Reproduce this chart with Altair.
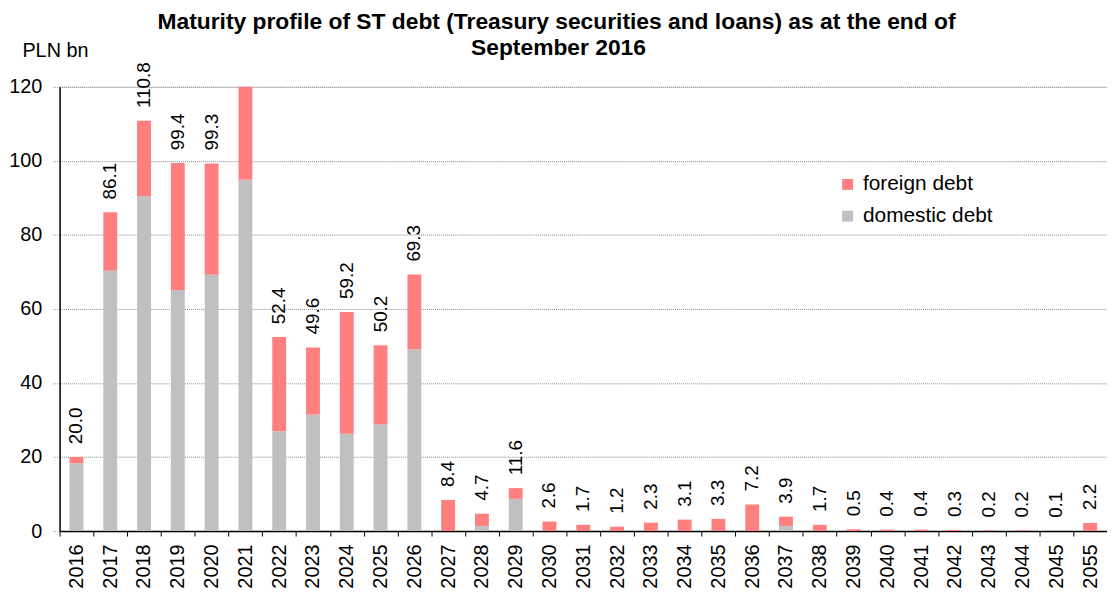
import altair as alt
import pandas as pd

years = ["2016", "2017", "2018", "2019", "2020", "2021", "2022", "2023", "2024", "2025",
         "2026", "2027", "2028", "2029", "2030", "2031", "2032", "2033", "2034", "2035",
         "2036", "2037", "2038", "2039", "2040", "2041", "2042", "2043", "2044", "2045", "2055"]
domestic = [18.3, 70.3, 90.4, 65.1, 69.2, 94.9, 27.0, 31.5, 26.3, 28.8,
            49.1, 0.0, 1.4, 8.7, 0.0, 0.0, 0.0, 0.0, 0.0, 0.0,
            0.0, 1.4, 0.0, 0.0, 0.0, 0.0, 0.0, 0.0, 0.0, 0.0, 0.0]
foreign = [1.7, 15.8, 20.4, 34.3, 30.1, 27.0, 25.4, 18.1, 32.9, 21.4,
           20.2, 8.4, 3.3, 2.9, 2.6, 1.7, 1.2, 2.3, 3.1, 3.3,
           7.2, 2.5, 1.7, 0.5, 0.4, 0.4, 0.3, 0.2, 0.2, 0.1, 2.2]
totals = [20.0, 86.1, 110.8, 99.4, 99.3, None, 52.4, 49.6, 59.2, 50.2,
          69.3, 8.4, 4.7, 11.6, 2.6, 1.7, 1.2, 2.3, 3.1, 3.3,
          7.2, 3.9, 1.7, 0.5, 0.4, 0.4, 0.3, 0.2, 0.2, 0.1, 2.2]

series_names = ["foreign debt", "domestic debt"]
series_colors = ["#FF7F7F", "#C0C0C0"]

title_lines = ["Maturity profile of ST debt (Treasury securities and loans) as at the end of",
               "September 2016"]
unit_label = "PLN bn"

rows = []
for y, d, f in zip(years, domestic, foreign):
    rows.append({"year": y, "series": "domestic debt", "value": d, "ord": 0})
    rows.append({"year": y, "series": "foreign debt", "value": f, "ord": 1})
df = pd.DataFrame(rows)

lab = pd.DataFrame({"year": years, "total": totals}).dropna()
lab["label"] = lab["total"].map(lambda v: f"{v:.1f}")

FONT = "Liberation Sans"

x_enc = alt.X("year:N", sort=years, title=None,
              scale=alt.Scale(paddingInner=0.0, paddingOuter=0.0),
              axis=alt.Axis(labelAngle=-90, labelAlign="right", labelBaseline="middle",
                            labelFontSize=20, labelFont=FONT, labelColor="black",
                            labelPadding=8, tickBand="extent", tickSize=5,
                            tickColor="black", domainColor="black", domainWidth=1.5,
                            grid=False))
y_scale = alt.Scale(domain=[0, 120], nice=False)

bars = alt.Chart(df).mark_bar(width=14, clip=True).encode(
    x=x_enc,
    y=alt.Y("value:Q", stack="zero", scale=y_scale,
            axis=alt.Axis(values=[0, 20, 40, 60, 80, 100, 120], title=unit_label,
                          titleAngle=0, titleX=-38, titleY=-30, titleAlign="left",
                          titleBaseline="alphabetic", titleFontSize=20,
                          titleFontWeight="normal", titleFont=FONT, titleColor="black",
                          labelFontSize=20, labelFont=FONT, labelColor="black",
                          labelPadding=11, tickSize=7, tickColor="#999999",
                          tickDash=[1, 1],
                          domainColor="black", domainWidth=1.5,
                          gridColor="#888888", gridDash=[1, 1], gridWidth=1)),
    color=alt.Color("series:N", scale=alt.Scale(domain=series_names, range=series_colors),
                    legend=alt.Legend(title=None, orient="none", legendX=784, legendY=88,
                                      symbolType="square", symbolSize=121,
                                      symbolStrokeWidth=0, labelFontSize=21,
                                      labelFont=FONT, labelColor="black",
                                      rowPadding=10, labelOffset=5)),
    order=alt.Order("ord:Q", sort="ascending"),
)

labels = alt.Chart(lab).mark_text(angle=270, align="left", baseline="middle", dx=13,
                                  fontSize=19, font=FONT, color="black").encode(
    x=alt.X("year:N", sort=years),
    y=alt.Y("total:Q", scale=y_scale),
    text="label:N",
)

t1 = alt.Chart(pd.DataFrame({"t": [title_lines[0]]})).mark_text(
    align="center", baseline="alphabetic", fontSize=23, fontWeight="bold",
    font=FONT, color="black").encode(x=alt.value(501), y=alt.value(-58), text="t:N")
t2 = alt.Chart(pd.DataFrame({"t": [title_lines[1]]})).mark_text(
    align="center", baseline="alphabetic", fontSize=23, fontWeight="bold",
    font=FONT, color="black").encode(x=alt.value(503), y=alt.value(-32), text="t:N")

chart = alt.layer(bars, labels, t1, t2).properties(
    width=1056, height=448,
    autosize=alt.AutoSizeParams(type="none"),
    padding={"left": 52, "top": 77, "right": 0, "bottom": 60},
).configure_view(stroke=None).configure(background="white")

chart.save("out.html", embed_options={"renderer": "svg", "actions": False})
